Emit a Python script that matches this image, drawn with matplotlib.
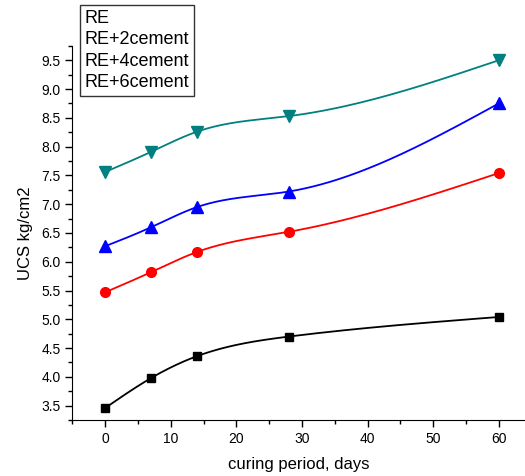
import numpy as np
import matplotlib
matplotlib.use("Agg")
import matplotlib.pyplot as plt
from matplotlib.ticker import MultipleLocator

plt.rcParams['font.family'] = ['Liberation Sans', 'DejaVu Sans']

days = [0, 7, 14, 28, 60]
ucs_re = [3.46, 3.98, 4.36, 4.70, 5.04]
ucs_re2 = [5.47, 5.82, 6.17, 6.52, 7.54]
ucs_re4 = [6.27, 6.60, 6.95, 7.22, 8.75]
ucs_re6 = [7.56, 7.91, 8.26, 8.53, 9.50]
labels = ['RE', 'RE+2cement', 'RE+4cement', 'RE+6cement']


def natural_spline(x, y, xs):
    # natural cubic spline through the points, used only for the smooth line
    x = np.asarray(x, float)
    y = np.asarray(y, float)
    n = len(x)
    h = np.diff(x)
    A = np.zeros((n, n))
    b = np.zeros(n)
    A[0, 0] = A[-1, -1] = 1
    for i in range(1, n - 1):
        A[i, i - 1] = h[i - 1]
        A[i, i] = 2 * (h[i - 1] + h[i])
        A[i, i + 1] = h[i]
        b[i] = 6 * ((y[i + 1] - y[i]) / h[i] - (y[i] - y[i - 1]) / h[i - 1])
    M = np.linalg.solve(A, b)
    idx = np.clip(np.searchsorted(x, xs) - 1, 0, n - 2)
    x0, x1 = x[idx], x[idx + 1]
    hh = x1 - x0
    t0, t1 = x1 - xs, xs - x0
    return (M[idx] * t0 ** 3 / (6 * hh) + M[idx + 1] * t1 ** 3 / (6 * hh)
            + (y[idx] / hh - M[idx] * hh / 6) * t0
            + (y[idx + 1] / hh - M[idx + 1] * hh / 6) * t1)


fig = plt.figure(figsize=(5.25, 4.76), dpi=100)
ax = fig.add_axes([0.138, 0.1176, 0.862, 0.786])

xs = np.linspace(days[0], days[-1], 300)
series = [(ucs_re, 'black', 's', 6),
          (ucs_re2, 'red', 'o', 7),
          (ucs_re4, 'blue', '^', 8),
          (ucs_re6, '#008080', 'v', 8)]
handles = []
for (vals, c, m, ms), lab in zip(series, labels):
    ax.plot(xs, natural_spline(days, vals, xs), color=c, lw=1.3)
    h, = ax.plot(days, vals, ls='none', marker=m, color=c, ms=ms, label=lab)
    handles.append(h)

ax.set_xlim(-5, 64)
ax.set_ylim(3.25, 9.75)
ax.xaxis.set_major_locator(MultipleLocator(10))
ax.xaxis.set_minor_locator(MultipleLocator(5))
ax.yaxis.set_major_locator(MultipleLocator(0.5))
ax.yaxis.set_minor_locator(MultipleLocator(0.25))
ax.tick_params(which='major', direction='out', length=5, width=1, labelsize=10)
ax.tick_params(which='minor', direction='out', length=3, width=1)
ax.spines['top'].set_visible(False)
ax.spines['right'].set_visible(False)
ax.set_xlabel('curing period, days', fontsize=12, labelpad=8)
ax.set_ylabel('UCS kg/cm2', fontsize=12, labelpad=6)

leg = ax.legend(handles=handles, loc='upper left', bbox_to_anchor=(80 / 525, 1 - 5 / 476),
                bbox_transform=fig.transFigure, handlelength=0, handletextpad=0,
                fontsize=13, frameon=True, fancybox=False, borderpad=0.25,
                labelspacing=0.25, borderaxespad=0)
leg.get_frame().set_edgecolor('black')
leg.get_frame().set_linewidth(1)
for h in leg.legend_handles:
    h.set_visible(False)

fig.savefig('out.png', dpi=100)
